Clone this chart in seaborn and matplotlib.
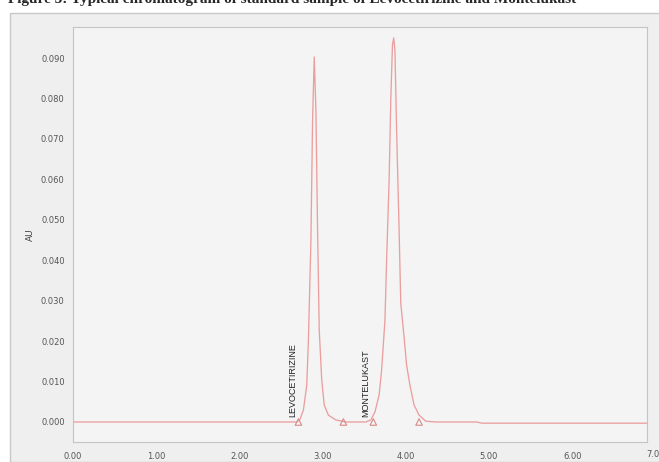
import numpy as np
import pandas as pd
import matplotlib
matplotlib.use("Agg")
import matplotlib.pyplot as plt
from matplotlib.patches import Rectangle
import seaborn as sns

# chromatogram trace (minutes, AU)
time_min = [0.00, 2.60, 2.69, 2.73, 2.77, 2.81, 2.83, 2.86, 2.88, 2.90, 2.92, 2.94,
            2.96, 2.99, 3.02, 3.07, 3.16, 3.28, 3.52, 3.58, 3.63, 3.68, 3.71, 3.75,
            3.77, 3.80, 3.82, 3.84, 3.855, 3.87, 3.89, 3.92, 3.94, 3.98, 4.01, 4.05,
            4.10, 4.16, 4.24, 4.36, 4.85, 4.92, 6.90]
absorbance = [0.0000, 0.0000, 0.0000, 0.0007, 0.0030, 0.0091, 0.0203, 0.0450, 0.0747,
              0.0903, 0.0772, 0.0475, 0.0227, 0.0104, 0.0042, 0.0017, 0.0005, 0.0000,
              0.0000, 0.0005, 0.0025, 0.0067, 0.0129, 0.0252, 0.0401, 0.0598, 0.0796,
              0.0932, 0.0950, 0.0920, 0.0722, 0.0475, 0.0294, 0.0210, 0.0141, 0.0091,
              0.0042, 0.0017, 0.0002, 0.0000, 0.0000, -0.0003, -0.0003]

# integration start/end marks on the baseline
mark_times = [2.71, 3.25, 3.61, 4.16]
mark_au = [0.0, 0.0, 0.0, 0.0]

peak_names = ["LEVOCETIRIZINE", "MONTELUKAST"]
peak_label_times = [2.64, 3.52]

x_ticks = [0, 1, 2, 3, 4, 5, 6]
y_ticks = [0.00, 0.01, 0.02, 0.03, 0.04, 0.05, 0.06, 0.07, 0.08, 0.09]

trace = pd.DataFrame({"Minutes": time_min, "AU": absorbance})
marks = pd.DataFrame({"Minutes": mark_times, "AU": mark_au})

sns.set_style("white")

fig = plt.figure(figsize=(6.59, 4.62), dpi=100)
fig.patch.set_facecolor("white")
# grey software panel behind the plot
fig.patches.append(Rectangle((10 / 659, 0), 1, 1 - 13 / 462, transform=fig.transFigure,
                             facecolor="#efefef", edgecolor="#c8c8c8", linewidth=1.0,
                             zorder=-5))

ax = fig.add_axes([73 / 659, 1 - 442 / 462, (647 - 73) / 659, (442 - 27) / 462])
ax.set_zorder(2)
ax.set_facecolor("#f4f4f4")

sns.lineplot(data=trace, x="Minutes", y="AU", ax=ax, color="#eb9e9e",
             linewidth=0.95, sort=False)
sns.scatterplot(data=marks, x="Minutes", y="AU", ax=ax, marker="^", s=22,
                facecolor="none", edgecolor="#d88a8a", linewidth=0.8, zorder=3)

for name, t in zip(peak_names, peak_label_times):
    ax.text(t, 0.0012, name, rotation=90, ha="center", va="bottom",
            fontsize=6.5, family="Liberation Sans", color="#222222")

ax.set_xlim(0, 6.9)
ax.set_ylim(-0.00495, 0.0977)
ax.set_xticks(x_ticks)
ax.set_xticklabels([f"{v:.2f}" for v in x_ticks])
ax.set_yticks(y_ticks)
ax.set_yticklabels([f"{v:.3f}" for v in y_ticks])
ax.text(7.0, -0.0070, "7.00", ha="center", va="top", fontsize=6, color="#555555",
        clip_on=False)
ax.tick_params(axis="both", labelsize=6, colors="#555555", length=2, width=0.6)
ax.tick_params(axis="x", pad=5)
ax.tick_params(axis="y", pad=4)

for side in ["left", "bottom", "top", "right"]:
    ax.spines[side].set_color("#c4c4c4")
    ax.spines[side].set_linewidth(0.8)

ax.set_xlabel("Minutes", fontsize=6.5, color="#444444", labelpad=2)
ax.set_ylabel("AU", fontsize=6.5, color="#444444", labelpad=4)

fig.text(8 / 659, 1 - 3 / 462, "Figure 3: Typical chromatogram of standard sample of "
         "Levocetirizine and Montelukast", fontsize=11, fontweight="bold",
         family="Liberation Serif", va="baseline", ha="left")

fig.savefig("out.png", dpi=100)
plt.close("all")
